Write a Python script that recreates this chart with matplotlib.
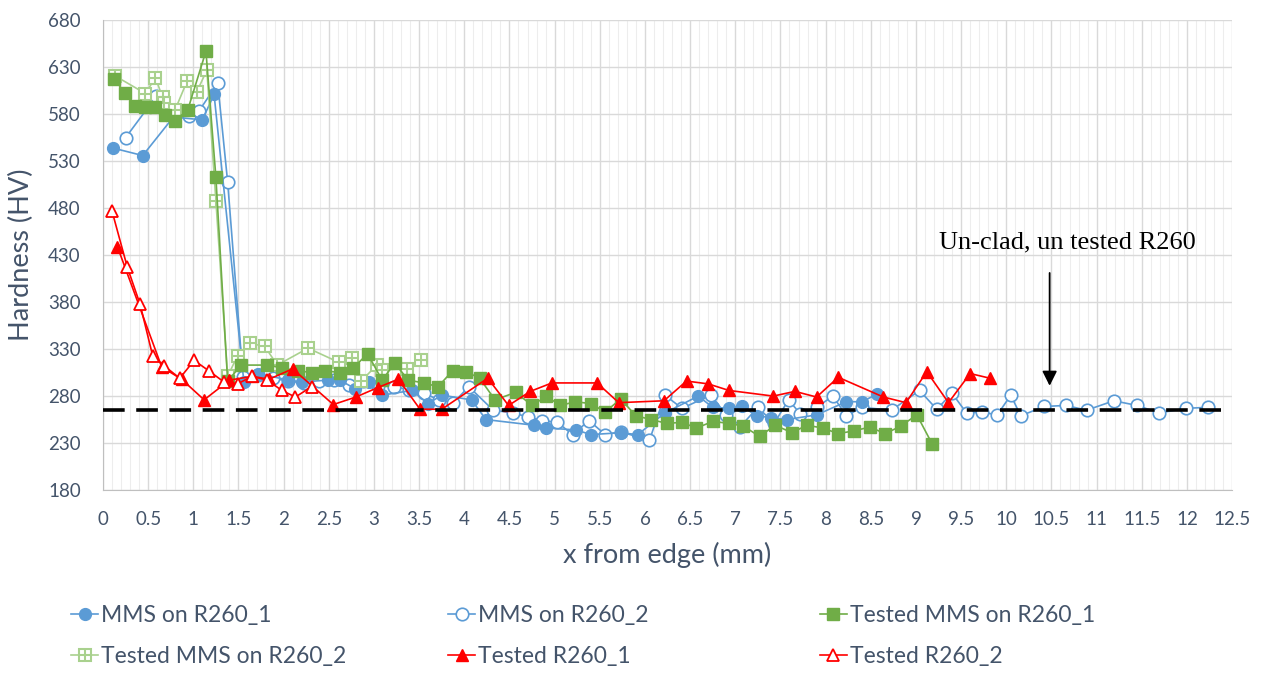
import numpy as np
import matplotlib
matplotlib.use('Agg')
import matplotlib.pyplot as plt
from matplotlib.ticker import MultipleLocator, FuncFormatter
from matplotlib.legend_handler import HandlerTuple

# MMS on R260_1 (filled blue circles)
mms1_x = [0.11, 0.44, 0.78, 1.10, 1.23, 1.56, 1.72, 2.05, 2.20, 2.49, 2.62, 2.79, 2.94, 3.09, 3.42,
          3.60, 3.75, 4.08, 4.24, 4.77, 4.91, 5.24, 5.40, 5.73, 5.92, 6.22, 6.59, 6.75, 6.93, 7.07,
          7.24, 7.40, 7.57, 7.90, 8.23, 8.40, 8.57]
mms1_y = [544, 536, 577, 574, 601, 295, 304, 297, 295, 297, 297, 288, 295, 281, 286,
          272, 281, 276, 255, 249, 246, 244, 239, 241, 239, 262, 280, 268, 267, 269,
          259, 257, 255, 260, 274, 274, 282]

# MMS on R260_2 (open blue circles)
mms2_x = [0.25, 0.59, 0.95, 1.06, 1.27, 1.38, 1.55, 1.72, 1.88, 2.05, 2.22, 2.39, 2.56, 2.72, 2.88,
          3.05, 3.22, 3.39, 3.55, 3.72, 3.88, 4.05, 4.32, 4.54, 4.70, 4.86, 5.03, 5.20, 5.38, 5.56,
          5.73, 6.05, 6.22, 6.41, 6.73, 6.90, 7.05, 7.25, 7.43, 7.59, 7.72, 7.90, 8.08, 8.23, 8.40,
          8.73, 9.04, 9.23, 9.40, 9.56, 9.73, 9.90, 10.05, 10.16, 10.42, 10.66, 10.89, 11.19, 11.45,
          11.69, 11.99, 12.23]
mms2_y = [555, 599, 578, 583, 613, 508, 300, 302, 299, 296, 294, 296, 297, 292, 296,
          291, 290, 287, 283, 276, 273, 290, 265, 262, 258, 254, 252, 239, 254, 239,
          242, 233, 281, 267, 281, 260, 247, 268, 251, 276, 261, 268, 280, 259, 268,
          265, 286, 266, 283, 262, 263, 260, 281, 259, 269, 270, 265, 275, 270,
          262, 267, 268]

# Tested MMS on R260_1 (filled green squares)
tmms1_x = [0.12, 0.24, 0.35, 0.47, 0.58, 0.69, 0.80, 0.94, 1.14, 1.25, 1.38, 1.53, 1.82, 1.98, 2.16,
           2.31, 2.46, 2.62, 2.77, 2.93, 3.09, 3.23, 3.38, 3.55, 3.71, 3.87, 4.02, 4.17, 4.34, 4.57,
           4.75, 4.91, 5.06, 5.23, 5.40, 5.56, 5.73, 5.90, 6.07, 6.24, 6.41, 6.57, 6.75, 6.93, 7.09,
           7.27, 7.44, 7.63, 7.79, 7.97, 8.14, 8.31, 8.49, 8.66, 8.83, 9.01, 9.18]
tmms1_y = [618, 603, 589, 588, 588, 579, 573, 585, 647, 513, 296, 313, 313, 310, 307,
           305, 307, 305, 310, 325, 297, 315, 297, 294, 290, 307, 306, 299, 276, 284,
           270, 280, 270, 274, 272, 263, 277, 259, 255, 251, 252, 246, 253, 251, 248,
           237, 249, 241, 249, 246, 240, 243, 247, 240, 248, 260, 229]

# Tested MMS on R260_2 (open light green squares with cross)
tmms2_x = [0.13, 0.47, 0.58, 0.66, 0.68, 0.80, 0.93, 1.04, 1.15, 1.25, 1.38, 1.49, 1.63, 1.79, 1.93,
           2.27, 2.61, 2.76, 2.86, 3.03, 3.09, 3.37, 3.52]
tmms2_y = [621, 602, 619, 598, 592, 585, 615, 604, 627, 488, 301, 323, 336, 333, 313,
           331, 316, 321, 296, 313, 308, 309, 318]

# Tested R260_1 (filled red triangles)
t1_x = [0.16, 0.65, 0.87, 1.12, 1.40, 1.65, 1.84, 2.10, 2.55, 2.80, 3.04, 3.27, 3.51, 3.75, 4.26,
        4.49, 4.73, 4.97, 5.47, 5.71, 6.21, 6.46, 6.70, 6.93, 7.42, 7.66, 7.90, 8.14, 8.64, 8.89,
        9.12, 9.36, 9.60, 9.82]
t1_y = [439, 311, 298, 276, 297, 301, 298, 309, 271, 279, 289, 298, 266, 266, 299,
        270, 285, 294, 294, 273, 275, 296, 293, 286, 280, 285, 279, 300, 279, 273,
        306, 273, 304, 299]

# Tested R260_2 (open red triangles)
t2_x = [0.10, 0.27, 0.41, 0.55, 0.68, 0.85, 1.01, 1.17, 1.34, 1.49, 1.65, 1.82, 1.98, 2.13, 2.31]
t2_y = [477, 417, 378, 323, 312, 299, 318, 307, 295, 293, 301, 297, 286, 279, 290]

base_hv = 265
arrow_x = 10.48
y_ticks = [180, 230, 280, 330, 380, 430, 480, 530, 580, 630, 680]

blue = '#5B9BD5'
green = '#70AD47'
lgreen = '#A9D18E'
red = '#FF0000'
txt = '#44546A'

plt.rcParams['font.family'] = ['Lato', 'DejaVu Sans']

fig = plt.figure(figsize=(12.65, 6.75), dpi=100)
ax = fig.add_axes([0.0814, 0.274, 0.8926, 0.696])

h1, = ax.plot(mms1_x, mms1_y, color=blue, lw=1.2, marker='o', ms=8.5, mfc=blue, mec=blue, zorder=4)
h2, = ax.plot(mms2_x, mms2_y, color=blue, lw=1.2, marker='o', ms=9, mfc='white', mec=blue, mew=1.2, zorder=3)
h3, = ax.plot(tmms1_x, tmms1_y, color=green, lw=1.2, marker='s', ms=8.5, mfc=green, mec=green, zorder=5)
h4a, = ax.plot(tmms2_x, tmms2_y, color=lgreen, lw=1.2, marker='s', ms=9, mfc='white', mec=lgreen, mew=1.5, zorder=4)
h4b, = ax.plot(tmms2_x, tmms2_y, ls='none', marker='+', ms=8, mec=lgreen, mew=1.5, zorder=4)
h5, = ax.plot(t1_x, t1_y, color=red, lw=1.2, marker='^', ms=9, mfc=red, mec=red, zorder=6)
h6, = ax.plot(t2_x, t2_y, color=red, lw=1.2, marker='^', ms=9, mfc='white', mec=red, mew=1.3, zorder=6)

ax.axhline(base_hv, color='black', lw=2.6, dashes=(6.0, 3.2), zorder=7)

ax.annotate('', xy=(arrow_x, 288), xytext=(arrow_x, 414),
            arrowprops=dict(arrowstyle='-|>', color='black', lw=1.3, mutation_scale=22), zorder=8)
ax.text(10.68, 443, 'Un-clad, un tested R260', family='Liberation Serif', fontsize=19,
        ha='center', va='center', color='black')

ax.set_xlim(0, 12.5)
ax.set_ylim(180, 680)
ax.xaxis.set_major_locator(MultipleLocator(0.5))
ax.xaxis.set_minor_locator(MultipleLocator(0.1))
ax.xaxis.set_major_formatter(FuncFormatter(lambda v, p: f'{v:g}'))
ax.set_yticks(y_ticks)
ax.grid(True, which='major', color='#D9D9D9', lw=1.0, zorder=0)
ax.grid(True, which='minor', axis='x', color='#EDEDED', lw=0.8, zorder=0)
ax.set_axisbelow(True)
for s in ['top', 'right']:
    ax.spines[s].set_visible(False)
for s in ['left', 'bottom']:
    ax.spines[s].set_color('#BFBFBF')
ax.tick_params(which='both', length=0, labelsize=13.5, labelcolor=txt)
ax.tick_params(axis='x', pad=15)
ax.tick_params(axis='y', pad=16)

ax.set_xlabel('x from edge (mm)', fontsize=19.5, color=txt, labelpad=10)
ax.set_ylabel('Hardness (HV)', fontsize=19.5, color=txt, labelpad=10)

legend_cols = [
    ([h1, (h4a, h4b)], ['MMS on R260_1', 'Tested MMS on R260_2'], 0.056),
    ([h2, h5], ['MMS on R260_2', 'Tested R260_1'], 0.354),
    ([h3, h6], ['Tested MMS on R260_1', 'Tested R260_2'], 0.648),
]
for hs, ls, x0 in legend_cols:
    leg = fig.legend(hs, ls, loc='upper left', bbox_to_anchor=(x0, 0.104), frameon=False,
                     fontsize=16.5, handlelength=1.2, handletextpad=0.1, labelspacing=0.88,
                     borderpad=0, borderaxespad=0, labelcolor=txt,
                     handler_map={tuple: HandlerTuple(ndivide=1, pad=0)})

fig.savefig('out.png', dpi=100)
